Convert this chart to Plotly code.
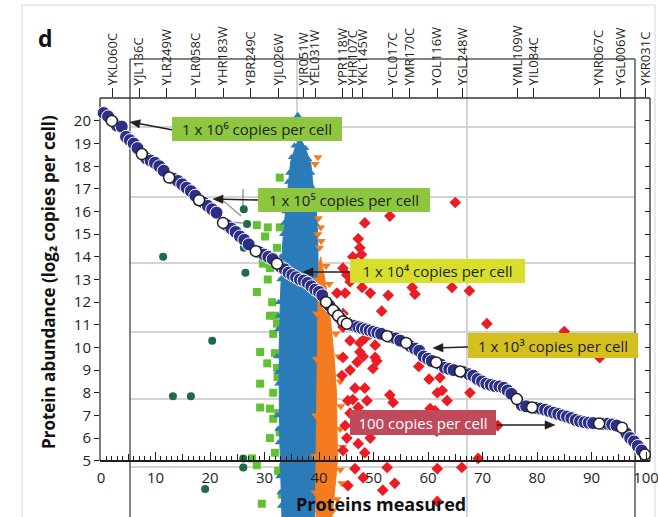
import math
import plotly.graph_objects as go

# ---------------- data ----------------
navy_x = [0.5,1.3,2.9,3.8,4.6,5.3,6.0,6.7,8.3,9.1,9.9,10.7,11.5,13.3,14.1,14.9,15.7,16.5,17.3,
          18.8,19.6,20.4,21.2,23.1,23.9,24.7,25.5,26.3,27.1,29.1,29.9,30.7,31.5,33.0,33.7,34.4,
          35.1,35.8,36.5,37.2,37.9,38.6,39.3,40.0,40.6,41.9,43.0,43.9,45.8,46.5,47.2,47.9,48.6,
          49.3,50.0,50.7,51.4,53.3,54.1,54.9,56.8,57.6,58.4,59.2,60.0,60.7,62.3,63.1,63.9,64.7,
          66.7,67.5,68.3,69.1,69.9,70.7,71.5,72.3,73.1,73.9,74.6,75.3,77.2,78.0,79.9,80.7,81.5,
          82.3,83.1,83.9,84.7,85.5,86.3,87.1,87.9,88.7,89.5,90.3,92.2,93.0,93.8,94.6,96.4,97.1,
          97.8,98.5,99.2]
navy_y = [20.35,20.2,19.8,19.75,19.3,19.15,19.0,18.8,18.35,18.25,18.15,18.0,17.8,17.45,17.35,17.2,
          17.05,16.9,16.7,16.4,16.25,16.1,15.95,15.4,15.25,15.1,14.9,14.75,14.55,14.2,14.1,14.0,13.9,
          13.55,13.45,13.3,13.2,13.1,13.0,12.95,12.85,12.7,12.55,12.45,12.3,11.85,11.55,11.3,11.0,
          10.95,10.9,10.85,10.8,10.75,10.7,10.65,10.6,10.45,10.4,10.3,10.05,9.95,9.85,9.6,9.5,9.4,
          9.25,9.1,9.05,9.0,8.9,8.82,8.75,8.6,8.5,8.4,8.35,8.3,8.28,8.22,8.1,7.95,7.45,7.4,7.33,7.3,
          7.25,7.18,7.12,7.06,7.0,6.95,6.88,6.8,6.74,6.7,6.68,6.66,6.63,6.63,6.6,6.55,6.2,6.0,5.85,
          5.65,5.45]

white_x = [2.0,7.5,12.5,18.0,22.4,28.4,32.3,41.3,42.6,43.5,44.4,45.1,52.5,56.0,61.5,65.9,76.3,79.1,91.4,95.6,99.8]
white_y = [20.0,18.54,17.5,16.5,15.5,14.25,13.7,12.0,11.64,11.4,11.15,11.05,10.5,10.2,9.34,8.94,7.72,7.35,6.64,6.46,5.27]

gene_labels = ["YKL060C","YJL136C","YLR249W","YLR058C","YHR183W","YBR249C","YJL026W","YJR051W",
               "YEL031W","YPR118W","YHR107C","YKL145W","YCL017C","YMR170C","YOL116W","YGL248W",
               "YML109W","YIL084C","YNR067C","YGL006W","YKR031C"]
gene_pos = [2.1,7.0,12.1,17.3,22.4,27.5,32.6,37.2,39.3,44.3,46.2,48.0,53.5,56.6,61.7,66.3,76.4,79.4,91.4,95.4,99.9]

blue_poly_x = [33.2,33.0,32.8,32.7,32.7,32.9,33.1,33.3,33.7,34.1,34.4,34.8,35.6,36.1,36.6,37.1,37.8,38.5,
               38.8,39.2,39.6,39.8,39.9,39.9,39.7,39.6,39.6,39.4,39.2]
blue_poly_y = [2.5,4,6,8,10,12,13.5,14.5,15.6,16.6,17.4,18.2,18.8,19.1,19.2,19.0,18.6,18.1,17.4,16.6,15.8,
               14.5,13.0,11.0,9.0,7.0,5.0,3.5,2.5]
blue_tri_x = [33.0,32.7,32.6,32.4,32.5,32.3,32.5,32.6,32.9,33.0,33.4,33.8,34.1,34.5,35.0,35.5,36.0,36.5,
              37.0,37.5,38.1,38.6,39.0,39.3,39.6,36.1,32.9,32.5,32.4,32.6,33.2,33.6,34.3]
blue_tri_y = [3.0,4.3,5.8,7.0,8.4,9.6,10.8,12.0,13.0,14.0,15.0,16.0,16.9,17.7,18.4,18.9,19.3,19.5,
              19.2,18.8,18.3,17.7,17.0,16.2,15.4,20.25,3.6,6.4,8.9,11.4,13.5,15.5,17.3]

orange_poly_x = [39.5,39.4,39.5,39.6,39.7,39.8,39.9,40.3,40.8,41.6,42.2,42.8,43.2,43.3,43.4,42.8,42.4]
orange_poly_y = [2.5,4,6,8,10,12,13.6,14.0,13.4,12.2,11.0,9.5,8.0,6.5,5.0,3.5,2.5]
orange_x = [39.8,39.3,39.9,40.3,39.8,40.4,40.1,41.3,41.9,42.6,43.1,43.6,43.9,44.0,43.9,44.3,43.9,44.2,
            43.3,42.6,40.0,39.3,39.2,39.4,39.5,39.6,39.7,40.9]
orange_y = [18.4,18.1,15.7,15.3,15.0,14.7,14.4,13.6,12.8,11.7,10.6,9.6,8.5,7.4,6.4,5.6,4.6,4.0,
            3.3,2.8,2.7,3.6,5.2,7.0,9.5,11.5,13.0,3.0]

red_x = [65.0,53.0,48.4,47.2,47.5,46.2,47.8,44.4,45.1,47.9,49.4,52.7,57.1,57.6,64.4,67.6,51.5,70.8,
         50.3,50.3,49.9,58.3,60.2,62.2,61.7,62.6,63.5,53.0,53.6,67.7,61.3,62.2,61.6,49.4,72.8,52.5,
         53.9,51.7,61.7,66.2,69.2,61.7,46.6,48.4,48.8,50.6,48.1,45.7,44.4,49.4,47.5,45.3,47.2,60.4,
         46.2,45.7,44.8,45.1,47.2,48.4,44.4,46.6,48.1,45.3,44.4,44.4,45.7,48.4,45.7,47.5,47.0,44.2,
         43.3,44.8,45.7,47.9,85.0,91.5]
red_y = [16.4,15.8,15.5,14.8,14.4,14.0,14.1,13.5,13.2,12.65,12.4,12.3,12.65,12.35,12.65,12.5,11.6,11.05,
         10.1,9.56,9.07,9.16,8.6,8.67,8.0,8.1,7.65,7.9,7.57,8.0,7.2,6.77,6.3,6.0,6.55,4.7,
         4.0,3.7,3.2,4.7,5.1,4.65,8.2,8.2,7.65,9.4,9.6,9.0,9.56,10.6,10.2,7.65,7.35,7.3,
         7.7,7.1,6.55,6.0,5.75,5.35,5.45,4.65,4.25,3.9,11.5,10.9,11.1,10.4,10.3,9.8,9.35,8.76,
         12.4,12.4,12.9,13.0,10.7,9.55]

green_x = [32.8,32.3,28.6,30.6,32.8,30.1,32.3,29.7,31.0,30.6,28.6,31.4,31.9,31.0,32.3,31.6,29.2,31.9,
           30.5,32.3,29.2,31.6,29.2,31.0,31.6,32.5,32.8,31.0,31.9,27.7,28.6,32.5,29.5,33.2,33.4,32.4]
green_y = [17.5,16.5,15.4,15.3,15.3,14.9,14.4,13.7,13.5,13.0,12.45,12.0,11.4,11.4,11.05,10.6,9.8,9.75,
           9.3,9.1,8.4,8.0,7.35,7.3,6.85,7.1,6.25,6.0,5.35,5.1,4.8,4.55,3.1,3.5,4.7,8.7]

dkgreen_x = [11.4,26.2,26.8,26.2,26.5,20.4,13.2,16.5,26.1,26.1,19.1]
dkgreen_y = [14.0,16.1,15.45,14.4,13.3,10.3,7.84,7.84,5.1,4.7,3.75]

y_ticks = list(range(5, 21))
x_labels = list(range(0, 101, 10))
x_fives = list(range(5, 100, 10))

# ---------------- geometry helpers (pixel -> paper) ----------------
W, H = 658, 517
L, R, T, B = 100, 8, 98, 0
PW, PH = W - L - R, H - T - B
def XP(px): return (px - L) / PW
def YP(py): return (H - B - py) / PH

XR = [-1 / 5.45, 549 / 5.45]
YR = [5 - 56.3 / 22.65, 5 + 362.7 / 22.65]
XPOS = 56.3 / PH

TXT = "#231f20"
FONT = "Open Sans"

fig = go.Figure()

fig.add_trace(go.Scatter(x=green_x, y=green_y, mode="markers", cliponaxis=False,
                         marker=dict(symbol="square", size=8, color="#62c133"), hoverinfo="skip"))
fig.add_trace(go.Scatter(x=dkgreen_x, y=dkgreen_y, mode="markers", cliponaxis=False,
                         marker=dict(symbol="circle", size=8, color="#1e6b46"), hoverinfo="skip"))
fig.add_trace(go.Scatter(x=blue_poly_x, y=blue_poly_y, mode="lines", fill="toself",
                         fillcolor="#2b7bb9", line=dict(color="#2b7bb9", width=1), hoverinfo="skip"))
fig.add_trace(go.Scatter(x=blue_tri_x, y=blue_tri_y, mode="markers", cliponaxis=False,
                         marker=dict(symbol="triangle-up", size=7, color="#2b7bb9"), hoverinfo="skip"))
fig.add_trace(go.Scatter(x=orange_poly_x, y=orange_poly_y, mode="lines", fill="toself",
                         fillcolor="#f47b20", line=dict(color="#f47b20", width=1), hoverinfo="skip"))
fig.add_trace(go.Scatter(x=orange_x, y=orange_y, mode="markers", cliponaxis=False,
                         marker=dict(symbol="triangle-down", size=8, color="#f47b20"), hoverinfo="skip"))
fig.add_trace(go.Scatter(x=red_x, y=red_y, mode="markers", cliponaxis=False,
                         marker=dict(symbol="diamond", size=9, color="#ec1c24"), hoverinfo="skip"))
fig.add_trace(go.Scatter(x=navy_x, y=navy_y, mode="markers", cliponaxis=False,
                         marker=dict(symbol="circle", size=13, color="#2b2f86",
                                     line=dict(color="white", width=1)), hoverinfo="skip"))
fig.add_trace(go.Scatter(x=white_x, y=white_y, mode="markers", cliponaxis=False,
                         marker=dict(symbol="circle", size=11, color="white",
                                     line=dict(color=TXT, width=1.5)), hoverinfo="skip"))
# carriers for the extra axes
fig.add_trace(go.Scatter(x=[None], y=[None], xaxis="x2", yaxis="y2", mode="markers", hoverinfo="skip"))
fig.add_trace(go.Scatter(x=[None], y=[None], xaxis="x3", yaxis="y", mode="markers", hoverinfo="skip"))

shapes = []
def pline(x0, y0, x1, y1, color, width, layer="below"):
    shapes.append(dict(type="line", xref="paper", yref="paper", x0=XP(x0), y0=YP(y0),
                       x1=XP(x1), y1=YP(y1), line=dict(color=color, width=width), layer=layer))

# light outer border
pline(22, 5, 655, 5, "#d6d6d6", 1)
pline(22, 5, 22, 517, "#d6d6d6", 1)
pline(655, 5, 655, 517, "#d6d6d6", 1)
# background grid
for gy in [127, 197, 263, 332, 399, 467]:
    pline(130, gy, 635, gy, "#d4d4d4", 2)
for gx in [297, 467]:
    pline(gx, 59, gx, 517, "#d4d4d4", 2)
# secondary frame
pline(130, 59, 130, 517, "#5a5a5a", 1.5)
pline(130, 59, 635, 59, "#5a5a5a", 1.5)
pline(635, 59, 635, 517, "#5a5a5a", 1.5)
# main frame
pline(100, 98, 650, 98, "#333333", 1.3)
pline(100, 98, 100, 461, "#333333", 1.3)
pline(650, 98, 650, 461, "#333333", 1.3)
# grey leader lines near 10^5 label
pline(243, 189, 243, 211, "#9a9a9a", 1.5)
pline(220, 198, 241, 216, "#9a9a9a", 1.5)
pline(228, 222, 243, 223, "#9a9a9a", 1.5)

def arrow(hx, hy, tx, ty, hl=10, hw=4.2):
    d = math.hypot(hx - tx, hy - ty)
    ux, uy = (hx - tx) / d, (hy - ty) / d
    bx, by = hx - ux * hl, hy - uy * hl
    pline(tx, ty, bx, by, TXT, 1.6, layer="above")
    p1 = (bx - uy * hw, by + ux * hw)
    p2 = (bx + uy * hw, by - ux * hw)
    path = "M {} {} L {} {} L {} {} Z".format(XP(hx), YP(hy), XP(p1[0]), YP(p1[1]), XP(p2[0]), YP(p2[1]))
    shapes.append(dict(type="path", xref="paper", yref="paper", path=path,
                       fillcolor=TXT, line=dict(color=TXT, width=0.5), layer="above"))

arrow(130, 122, 173, 130)
arrow(213, 199, 258, 200)
arrow(303, 272, 350, 272)
arrow(433, 348, 468, 347)
arrow(555, 425, 497, 425)

ann = []
def box(text, x0, x1, y0, y1, bg, fg):
    ann.append(dict(text=text, xref="paper", yref="paper", x=XP((x0 + x1) / 2), y=YP((y0 + y1) / 2),
                    xanchor="center", yanchor="middle", showarrow=False, bgcolor=bg,
                    borderpad=2, borderwidth=0, width=x1 - x0 - 4, height=y1 - y0 - 4,
                    font=dict(family=FONT, size=15, color=fg)))

box("1 x 10\u2076 copies per cell", 172, 342, 117, 141, "#8dc63f", TXT)
box("1 x 10\u2075 copies per cell", 258, 430, 188, 212, "#8dc63f", TXT)
box("1 x 10\u2074 copies per cell", 350, 525, 259, 283, "#d7df2a", TXT)
box("1 x 10\u00b3 copies per cell", 468, 638, 333, 358, "#d5bf1f", TXT)
box("100 copies per cell", 350, 496, 410, 435, "#c04a5b", "white")

ann.append(dict(text="<b>d</b>", xref="paper", yref="paper", x=XP(45), y=YP(38),
                xanchor="center", yanchor="middle", showarrow=False,
                font=dict(family=FONT, size=23, color="#111111")))
ann.append(dict(text="<b>Proteins measured</b>", xref="paper", yref="paper", x=XP(381), y=YP(504),
                xanchor="center", yanchor="middle", showarrow=False,
                font=dict(family=FONT, size=18, color="#111111")))
ann.append(dict(text="<b>Protein abundance (log\u2082 copies per cell)</b>", xref="paper",
                yref="paper", x=XP(48), y=YP(282), xanchor="center", yanchor="middle",
                textangle=-90, showarrow=False, font=dict(family=FONT, size=17, color="#111111")))

fig.update_layout(
    width=W, height=H, autosize=False,
    margin=dict(l=L, r=R, t=T, b=B, pad=0),
    paper_bgcolor="white", plot_bgcolor="rgba(0,0,0,0)",
    showlegend=False, shapes=shapes, annotations=ann,
    font=dict(family=FONT, color=TXT),
    xaxis=dict(range=XR, anchor="free", position=XPOS, showgrid=False, zeroline=False,
               showline=True, linecolor=TXT, linewidth=1.5,
               tickmode="array", tickvals=x_labels, ticklabeloverflow="allow",
               ticks="inside", ticklen=8, tickwidth=1.2, tickcolor=TXT, ticklabelstandoff=4,
               tickfont=dict(family=FONT, size=15, color=TXT),
               minor=dict(dtick=1, tick0=0, ticks="inside", ticklen=4, tickwidth=1, tickcolor=TXT)),
    xaxis3=dict(range=XR, overlaying="x", anchor="free", position=XPOS, showgrid=False,
                zeroline=False, showline=False, tickmode="array", tickvals=x_fives,
                ticks="inside", ticklen=7, tickwidth=1.2, tickcolor=TXT, showticklabels=False),
    yaxis=dict(range=YR, domain=[0, 1], showgrid=False, zeroline=False, showline=False,
               tickmode="array", tickvals=y_ticks, ticks="outside", ticklen=5, tickwidth=1.3,
               tickcolor=TXT, tickfont=dict(family=FONT, size=15, color=TXT)),
    xaxis2=dict(range=XR, overlaying="x", side="top", anchor="y2", showgrid=False, zeroline=False,
                showline=False, tickmode="array", tickvals=gene_pos, ticktext=gene_labels,
                tickangle=-90, ticks="outside", ticklen=9, tickwidth=1.2, tickcolor=TXT,
                tickfont=dict(family=FONT, size=13, color=TXT)),
    yaxis2=dict(range=YR, overlaying="y", side="right", anchor="x2", showgrid=False,
                zeroline=False, showline=False, tickmode="array", tickvals=y_ticks,
                ticks="inside", ticklen=5, tickwidth=1.2, tickcolor=TXT, showticklabels=False),
)

fig.write_html("out.html")
